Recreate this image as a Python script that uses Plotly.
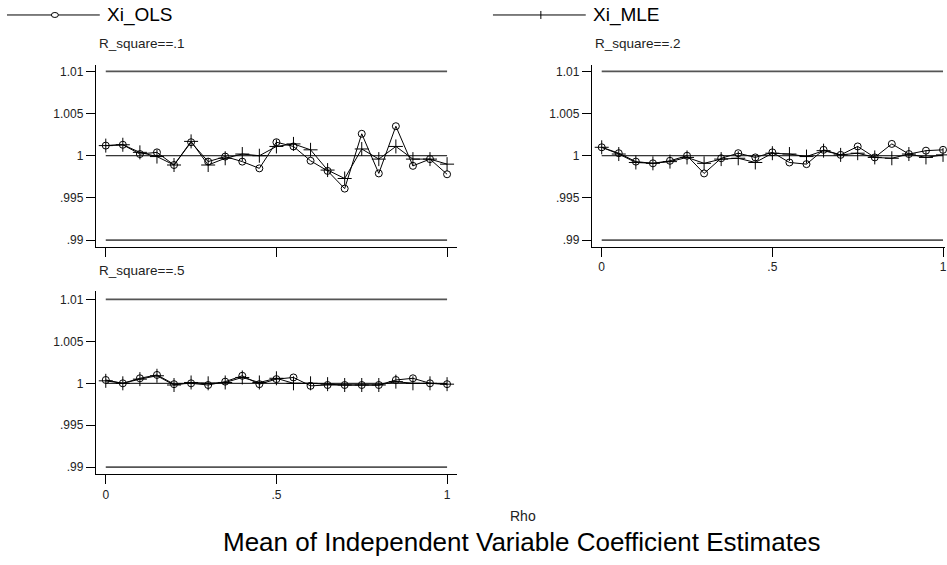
import plotly.graph_objects as go

# Rho grid shared by every panel
rho = [0, .05, .1, .15, .2, .25, .3, .35, .4, .45, .5,
       .55, .6, .65, .7, .75, .8, .85, .9, .95, 1]

# Mean coefficient estimates, R_square == .1
ols_r1 = [1.0012, 1.0013, 1.0002, 1.0004, 0.9989, 1.0016, 0.9993, 0.9999, 0.9993, 0.9985, 1.0016,
          1.0011, 0.9994, 0.9982, 0.9961, 1.0026, 0.9979, 1.0035, 0.9988, 0.9996, 0.9978]
mle_r1 = [1.0012, 1.0013, 1.0004, 0.9999, 0.9989, 1.0017, 0.9989, 0.9997, 1.0002, 1.0000, 1.0011,
          1.0014, 1.0007, 0.9983, 0.9973, 1.0008, 0.9996, 1.0011, 0.9996, 0.9996, 0.9990]

# Mean coefficient estimates, R_square == .2
ols_r2 = [1.0010, 1.0003, 0.9993, 0.9991, 0.9994, 1.0000, 0.9979, 0.9997, 1.0003, 0.9998, 1.0004,
          0.9992, 0.9990, 1.0007, 1.0001, 1.0011, 0.9998, 1.0014, 1.0002, 1.0006, 1.0007]
mle_r2 = [1.0010, 1.0002, 0.9992, 0.9991, 0.9993, 0.9998, 0.9991, 0.9996, 0.9997, 0.9992, 1.0003,
          1.0002, 0.9999, 1.0006, 1.0001, 1.0003, 0.9998, 0.9997, 1.0002, 0.9998, 1.0001]

# Mean coefficient estimates, R_square == .5
ols_r5 = [1.0004, 1.0000, 1.0006, 1.0010, 0.9999, 1.0000, 0.9998, 1.0002, 1.0009, 0.9999, 1.0005,
          1.0007, 0.9997, 0.9998, 0.9998, 0.9998, 0.9998, 1.0004, 1.0006, 1.0000, 0.9999]
mle_r5 = [1.0003, 1.0000, 1.0005, 1.0009, 0.9998, 1.0001, 1.0000, 1.0001, 1.0007, 1.0001, 1.0006,
          1.0000, 1.0000, 0.9999, 0.9998, 0.9998, 0.9998, 1.0002, 1.0000, 1.0000, 0.9999]

panel_titles = ["R_square==.1", "R_square==.2", "R_square==.5"]
series_names = ["Xi_OLS", "Xi_MLE"]

y_ticks = [0.99, 0.995, 1.0, 1.005, 1.01]
y_tick_text = [".99", ".995", "1", "1.005", "1.01"]
x_ticks = [0, 0.5, 1]
x_tick_text = ["0", ".5", "1"]
ref_lines = [0.99, 1.0, 1.01]

W, H = 947, 565
FONT = "Liberation Sans, Arial, sans-serif"


def px_x(p):
    return p / W


def px_y(p):
    return 1 - p / H


panels = [
    # (ols, mle, axis suffix, x domain px, y domain px, y range, show x labels, x range)
    (ols_r1, mle_r1, "", (96, 458), (65, 247), (0.98923, 1.01077), False, (-0.0292, 1.0292)),
    (ols_r2, mle_r2, "2", (593, 947), (65, 247), (0.98923, 1.01077), True, (-0.0292, 1.0058)),
    (ols_r5, mle_r5, "3", (96, 458), (292, 475), (0.98917, 1.01095), True, (-0.0292, 1.0292)),
]

fig = go.Figure()
shapes = []
annotations = []

for i, (ols, mle, sfx, xd, yd, yr, show_x, xr) in enumerate(panels):
    xa = "x" + sfx
    ya = "y" + sfx
    # reference lines at .99, 1 and 1.01 spanning the rho range
    for v in ref_lines:
        centre = v == 1.0
        shapes.append(dict(type="line", xref=xa, yref=ya, x0=rho[0], x1=rho[-1], y0=v, y1=v,
                           line=dict(color="black" if centre else "#555555",
                                     width=1 if centre else 1.8),
                           layer="below"))
    fig.add_trace(go.Scatter(x=rho, y=ols, xaxis=xa, yaxis=ya, mode="lines+markers",
                             name=series_names[0], showlegend=False, cliponaxis=False,
                             line=dict(color="black", width=1),
                             marker=dict(symbol="circle-open", size=7,
                                         color="black", line=dict(width=1))))
    fig.add_trace(go.Scatter(x=rho, y=mle, xaxis=xa, yaxis=ya, mode="lines+markers",
                             name=series_names[1], showlegend=False, cliponaxis=False,
                             line=dict(color="black", width=1),
                             marker=dict(symbol="cross-thin-open", size=10,
                                         color="black", line=dict(width=1))))
    axis_common = dict(showline=True, linecolor="black", linewidth=1, ticks="outside",
                       ticklen=9, tickwidth=1, tickcolor="black", showgrid=False,
                       zeroline=False, ticklabeloverflow="allow",
                       tickfont=dict(family=FONT, size=12, color="#222222"))
    fig.layout["xaxis" + sfx] = dict(domain=[px_x(xd[0]), px_x(xd[1])], range=list(xr),
                                     anchor=ya, tickvals=x_ticks, ticktext=x_tick_text,
                                     showticklabels=show_x, **axis_common)
    fig.layout["yaxis" + sfx] = dict(domain=[px_y(yd[1]), px_y(yd[0])], range=list(yr),
                                     anchor=xa, tickvals=y_ticks, ticktext=y_tick_text,
                                     **axis_common)
    annotations.append(dict(text=panel_titles[i], xref="paper", yref="paper",
                            x=px_x(xd[0] + 1), y=px_y(yd[0] - 21), xanchor="left",
                            yanchor="middle", showarrow=False,
                            font=dict(family=FONT, size=13.5, color="#222222")))

# legend keys drawn across the top
legend_keys = [(7, 100, 55, "circle"), (494, 587, 542, "plus")]
ly = 15
for (x0, x1, xm, kind), label in zip(legend_keys, series_names):
    shapes.append(dict(type="line", xref="paper", yref="paper", x0=px_x(x0), x1=px_x(x1),
                       y0=px_y(ly), y1=px_y(ly), line=dict(color="black", width=1)))
    if kind == "circle":
        shapes.append(dict(type="circle", xref="paper", yref="paper",
                           x0=px_x(xm - 3.5), x1=px_x(xm + 3.5),
                           y0=px_y(ly + 2.5), y1=px_y(ly - 2.5),
                           line=dict(color="black", width=1), fillcolor="white"))
    else:
        shapes.append(dict(type="line", xref="paper", yref="paper", x0=px_x(xm), x1=px_x(xm),
                           y0=px_y(ly + 4), y1=px_y(ly - 4), line=dict(color="black", width=1)))
    annotations.append(dict(text=label, xref="paper", yref="paper", x=px_x(x1 + 5), y=px_y(ly),
                            xanchor="left", yanchor="middle", showarrow=False,
                            font=dict(family=FONT, size=19, color="black")))

annotations.append(dict(text="Rho", xref="paper", yref="paper", x=px_x(524), y=px_y(517),
                        xanchor="center", yanchor="middle", showarrow=False,
                        font=dict(family=FONT, size=14, color="#222222")))
annotations.append(dict(text="Mean of Independent Variable Coefficient Estimates",
                        xref="paper", yref="paper", x=px_x(523), y=px_y(543),
                        xanchor="center", yanchor="middle", showarrow=False,
                        font=dict(family=FONT, size=26, color="black")))

fig.update_layout(width=W, height=H, autosize=False,
                  margin=dict(l=0, r=0, t=0, b=0, pad=0),
                  paper_bgcolor="white", plot_bgcolor="white",
                  shapes=shapes, annotations=annotations, showlegend=False)

fig.write_html("out.html")
